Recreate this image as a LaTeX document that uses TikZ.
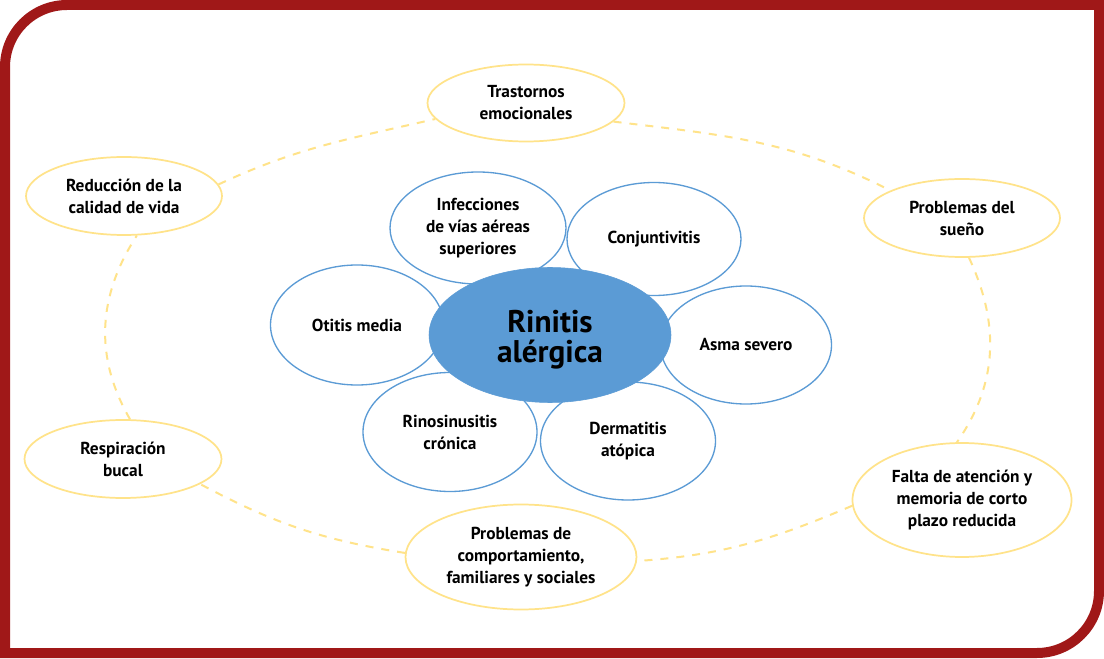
\documentclass[tikz,border=0pt]{standalone}
\usepackage{fontspec}
\setmainfont{PT Sans}
\usetikzlibrary{shapes.geometric}
\definecolor{frame}{HTML}{A01818}
\definecolor{bluec}{HTML}{5B9BD5}
\definecolor{yell}{HTML}{FFE38A}
\tikzset{
  sz/.style 2 args={minimum width=#1*0.75pt, minimum height=#2*0.75pt},
  bluebox/.style={ellipse, draw=bluec, line width=1pt, fill=white, inner sep=0pt, align=center,
    font=\fontsize{13}{16.5}\selectfont\bfseries},
  yellowbox/.style={ellipse, draw=yell, line width=1.3pt, fill=white, inner sep=0pt, align=center,
    font=\fontsize{13}{16.5}\selectfont\bfseries},
  centerbox/.style={ellipse, draw=bluec, fill=bluec, inner sep=0pt, align=center,
    font=\fontsize{23.5}{24}\selectfont\bfseries},
  link/.style={draw=yell, line width=1.5pt, dash pattern=on 6pt off 6pt},
}
\begin{document}
\begin{tikzpicture}[x=0.75pt,y=0.75pt]
\useasboundingbox (0,0) rectangle (1104,658);
\fill[white] (0,0) rectangle (1104,658);
% frame
\draw[frame, line width=7.5pt] (5,5) -- (5,591) arc[start angle=180,end angle=90,radius=62]
  -- (1099,653) -- (1099,67) arc[start angle=0,end angle=-90,radius=62] -- cycle;

% outer yellow nodes
\node[yellowbox, sz={197}{77}] (tras) at (526,555) {Trastornos\\emocionales};
\node[yellowbox, sz={196}{78}] (redu) at (124,462) {Reducción de la\\calidad de vida};
\node[yellowbox, sz={196}{78}] (sueno) at (962,440) {Problemas del\\sueño};
\node[yellowbox, sz={197}{78}] (resp) at (123,199) {Respiración\\bucal};
\node[yellowbox, sz={219}{114}] (falta) at (962,158) {Falta de atención y\\memoria de corto\\plazo reducida};
\node[yellowbox, sz={231}{105}] (comp) at (521,101) {Problemas de\\comportamiento,\\familiares y sociales};

% dashed connectors
\draw[link] (redu.7) to[out=25,in=193] (tras.190);
\draw[link] (tras.-12) to[out=-7,in=153] (sueno.159);
\draw[link] (sueno.-80) to[out=-65,in=55] (falta.95);
\draw[link] (falta.183) to[out=203,in=4] (comp.-2);
\draw[link] (comp.178) to[out=171,in=-28] (resp.-18);
\draw[link] (resp.80) to[out=120,in=-123] (redu.-72);

% inner blue nodes
\node[bluebox, sz={176}{112}] (infe) at (478,430) {Infecciones\\de vías aéreas\\superiores};
\node[bluebox, sz={174}{113}] (conj) at (654,419) {Conjuntivitis};
\node[bluebox, sz={173}{120}] (otit) at (357,333) {Otitis media};
\node[bluebox, sz={171}{118}] (asma) at (746,313) {Asma severo};
\node[bluebox, sz={174}{119}] (rino) at (450,226) {Rinosinusitis\\crónica};
\node[bluebox, sz={175}{118}] (derm) at (628,217) {Dermatitis\\atópica};

% center
\node[centerbox, sz={242}{135}] (center) at (550,323) {\raisebox{-4.5pt}[\height][\depth]{\begin{tabular}{@{}c@{}}Rinitis\\[-2pt]alérgica\end{tabular}}};
\end{tikzpicture}
\end{document}
